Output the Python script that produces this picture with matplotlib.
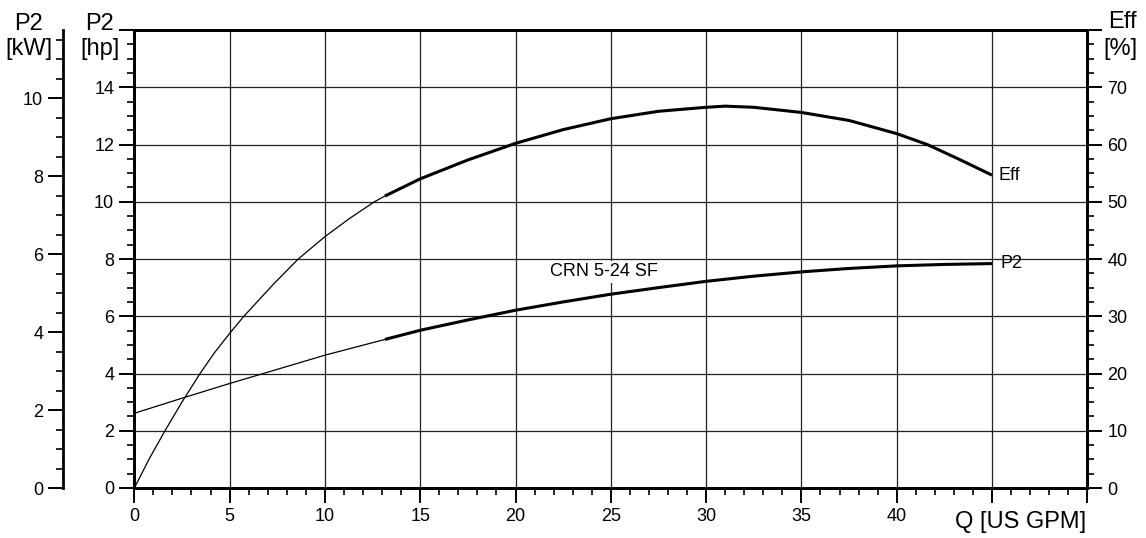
import matplotlib
matplotlib.use("Agg")
import matplotlib.pyplot as plt
from matplotlib.ticker import MultipleLocator

plt.rcParams['font.family'] = ['Liberation Sans', 'DejaVu Sans']

# ---- data ----
eff_q = [0, 0.8, 1.61, 2.5, 3.45, 4.2, 5.0, 5.75, 7.3, 8.6, 10.0, 11.3, 12.6, 13.15,
         15, 17.5, 20, 22.5, 25, 27.5, 30, 31, 32.5, 35, 37.5, 40, 41.6, 43.35, 45]
eff_v = [0, 5.2, 10.0, 15.0, 20.0, 23.6, 27.0, 30.0, 35.6, 40.0, 43.9, 47.1, 50.0, 51.0,
         54.0, 57.3, 60.2, 62.6, 64.5, 65.8, 66.5, 66.7, 66.5, 65.6, 64.2, 61.9, 60.0, 57.3, 54.65]

p2_q = [0, 2.66, 5, 6.77, 10, 13.15, 15, 17.5, 20, 22.5, 25, 27.5, 30, 32.5,
        35, 37.5, 40, 42.5, 45]
p2_hp = [2.61, 3.17, 3.65, 4.0, 4.64, 5.19, 5.51, 5.87, 6.21, 6.5, 6.77, 7.0,
         7.22, 7.4, 7.55, 7.67, 7.76, 7.81, 7.84]

q_split = 13.15          # start of the bold (operating) part of the curves
x_ticks = [0, 5, 10, 15, 20, 25, 30, 35, 40]
hp_ticks = [0, 2, 4, 6, 8, 10, 12, 14]
kw_ticks = [0, 2, 4, 6, 8, 10]
eff_ticks = [0, 10, 20, 30, 40, 50, 60, 70]
pump_label = "CRN 5-24 SF"

# ---- figure ----
W, H = 1146, 538
fig = plt.figure(figsize=(W / 100, H / 100), dpi=100)
x0, x1, y0, y1 = 134.3, 1087.3, 488.0, 30.0
ax = fig.add_axes([x0 / W, 1 - y0 / H, (x1 - x0) / W, (y0 - y1) / H])

FS = 13
TFS = 17
MAJ, MIN = 10.5, 5.2

ax.set_xlim(0, 50)
ax.set_ylim(0, 16)
ax.set_xticks(list(range(0, 51, 5)))
ax.set_xticklabels([str(t) if t in x_ticks else "" for t in range(0, 51, 5)])
ax.xaxis.set_minor_locator(MultipleLocator(1))
ax.set_yticks(list(range(0, 17, 2)))
ax.set_yticklabels([str(t) if t in hp_ticks else "" for t in range(0, 17, 2)])
ax.yaxis.set_minor_locator(MultipleLocator(0.5))
ax.tick_params(which='major', length=MAJ, width=1.4, labelsize=FS, pad=4, direction='out')
ax.tick_params(which='minor', length=MIN, width=1.2, direction='out')
ax.grid(True, which='major', color='#222222', linewidth=0.9)
for s in ax.spines.values():
    s.set_linewidth(2.0)

# efficiency axis (right)
ax2 = ax.twinx()
ax2.set_ylim(0, 80)
ax2.set_yticks(list(range(0, 81, 10)))
ax2.set_yticklabels([str(t) if t in eff_ticks else "" for t in range(0, 81, 10)])
ax2.yaxis.set_minor_locator(MultipleLocator(2.5))
ax2.tick_params(which='major', length=MAJ, width=1.4, labelsize=FS, pad=4)
ax2.tick_params(which='minor', length=MIN, width=1.2)
for s in ax2.spines.values():
    s.set_linewidth(2.0)

# kW axis (far left)
ax3 = ax.twinx()
ax3.set_ylim(0, 458 / 39.0)
ax3.spines['left'].set_position(('axes', (63.3 - x0) / (x1 - x0)))
ax3.spines['left'].set_visible(True)
ax3.spines['left'].set_linewidth(2.0)
for k in ['right', 'top', 'bottom']:
    ax3.spines[k].set_visible(False)
ax3.yaxis.set_ticks_position('left')
ax3.yaxis.set_label_position('left')
ax3.set_yticks(kw_ticks)
ax3.yaxis.set_minor_locator(MultipleLocator(0.5))
ax3.tick_params(which='major', length=MAJ, width=1.4, labelsize=FS, pad=4)
ax3.tick_params(which='minor', length=MIN, width=1.2)

# curves
def split(qs, vs):
    thin = [(q, v) for q, v in zip(qs, vs) if q <= q_split]
    thick = [(q, v) for q, v in zip(qs, vs) if q >= q_split]
    return list(zip(*thin)), list(zip(*thick))

(tq, tv), (kq, kv) = split(eff_q, eff_v)
ax2.plot(tq, tv, color='black', lw=0.9, solid_capstyle='butt', solid_joinstyle='round', zorder=5)
ax2.plot(kq, kv, color='black', lw=2.2, solid_capstyle='butt', solid_joinstyle='round', zorder=5)
(tq, tv), (kq, kv) = split(p2_q, p2_hp)
ax.plot(tq, tv, color='black', lw=0.9, solid_capstyle='butt', solid_joinstyle='round', zorder=5)
ax.plot(kq, kv, color='black', lw=2.2, solid_capstyle='butt', solid_joinstyle='round', zorder=5)

# curve labels
ax2.annotate("Eff", xy=(eff_q[-1], eff_v[-1]), xytext=(5, 0), textcoords='offset points',
             fontsize=FS, va='center', ha='left')
ax.annotate("P2", xy=(p2_q[-1], p2_hp[-1]), xytext=(6, 0), textcoords='offset points',
            fontsize=FS, va='center', ha='left')
ax.text(24.65, 7.55, pump_label, fontsize=FS, ha='center', va='center', zorder=4,
        bbox=dict(facecolor='white', edgecolor='none', pad=1.5))

# axis titles
def ftext(x, y, s, ha='center'):
    fig.text(x / W, 1 - y / H, s, fontsize=TFS, ha=ha, va='baseline')

ftext(29, 30, "P2")
ftext(29, 55.5, "[kW]")
ftext(99.5, 30, "P2")
ftext(99.5, 55.5, "[hp]")
ftext(1122, 28, "Eff")
ftext(1120, 55.5, "[%]")
ftext(1086, 528, "Q [US GPM]", ha='right')

fig.savefig("out.png", dpi=100)
